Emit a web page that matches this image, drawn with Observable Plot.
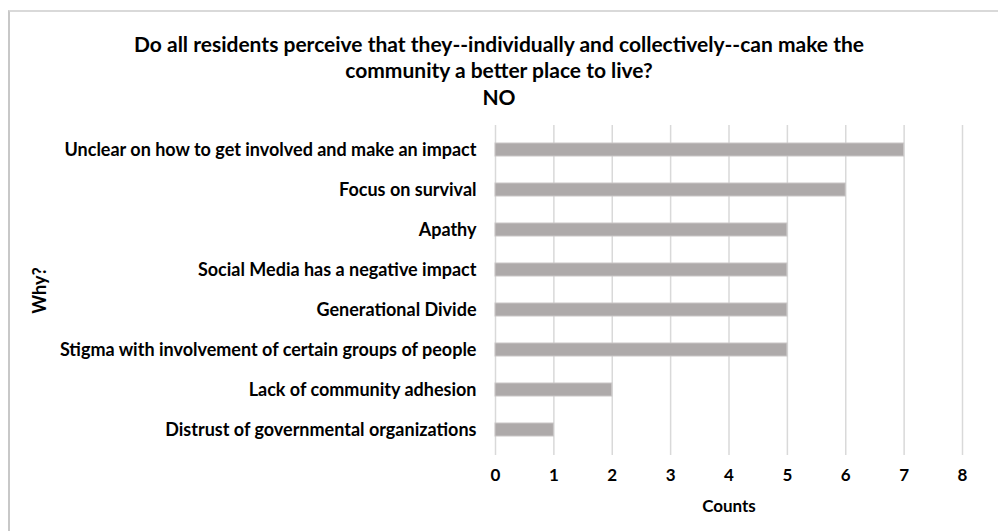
<!DOCTYPE html>
<html>
<head>
<meta charset="utf-8">
<script src="https://cdn.jsdelivr.net/npm/d3@7"></script>
<script src="https://cdn.jsdelivr.net/npm/@observablehq/plot@0.6"></script>
<style>
  html, body { margin: 0; padding: 0; background: #fff; }
  #wrap { position: relative; width: 998px; height: 531px; overflow: hidden; font-family: Lato, "Open Sans", sans-serif; }
  #frame { position: absolute; left: 8px; top: 10px; width: 995px; height: 530px; border-left: 2px solid #c8c8c8; border-top: 2px solid #d9d9d9; }
  #title { position: absolute; left: 0; top: 0; width: 998px; height: 112px; text-align: center; font-weight: 700; color: #000; }
  #title .t { position: absolute; left: 0; width: 998px; font-size: 21px; line-height: 24px; }
  #chart { position: absolute; left: 0; top: 112px; }
</style>
</head>
<body>
<div id="wrap">
  <div id="frame"></div>
  <div id="title">
    <div class="t" style="top:32px">Do all residents perceive that they--individually and collectively--can make the</div>
    <div class="t" style="top:58px">community a better place to live?</div>
    <div class="t" style="top:85px">NO</div>
  </div>
  <div id="chart"></div>
</div>
<script>
const categories = [
  "Unclear on how to get involved and make an impact",
  "Focus on survival",
  "Apathy",
  "Social Media has a negative impact",
  "Generational Divide",
  "Stigma with involvement of certain groups of people",
  "Lack of community adhesion",
  "Distrust of governmental organizations"
];
const counts = [7, 6, 5, 5, 5, 5, 2, 1];
const xTicks = [0, 1, 2, 3, 4, 5, 6, 7, 8];

const data = categories.map((c, i) => ({reason: c, count: counts[i]}));

const chart = Plot.plot({
  width: 998,
  height: 419,
  marginLeft: 495,
  marginRight: 36,
  marginTop: 13,
  marginBottom: 76,
  style: {fontFamily: "Lato, 'Open Sans', sans-serif", fontSize: "18px", fontWeight: 700, color: "#000", background: "transparent"},
  x: {domain: [0, 8]},
  y: {domain: categories, paddingInner: 0.67, paddingOuter: 0.39},
  marks: [
    Plot.ruleX(xTicks, {stroke: "#d9d9d9", strokeWidth: 1.5, strokeOpacity: 1}),
    Plot.barX(data, {x: "count", y: "reason", fill: "#aeaaaa", stroke: "#c9c6c6", strokeWidth: 1}),
    Plot.axisX(xTicks, {tickSize: 0, tickPadding: 13, fontSize: 17, fontWeight: 700, label: "Counts", labelAnchor: "center", labelOffset: 56, labelArrow: "none"}),
    Plot.axisY({tickSize: 0, tickPadding: 19, fontSize: 18, fontWeight: 700, label: "Why?", labelAnchor: "center", labelOffset: 462})
  ]
});
document.getElementById("chart").appendChild(chart);
</script>
</body>
</html>
